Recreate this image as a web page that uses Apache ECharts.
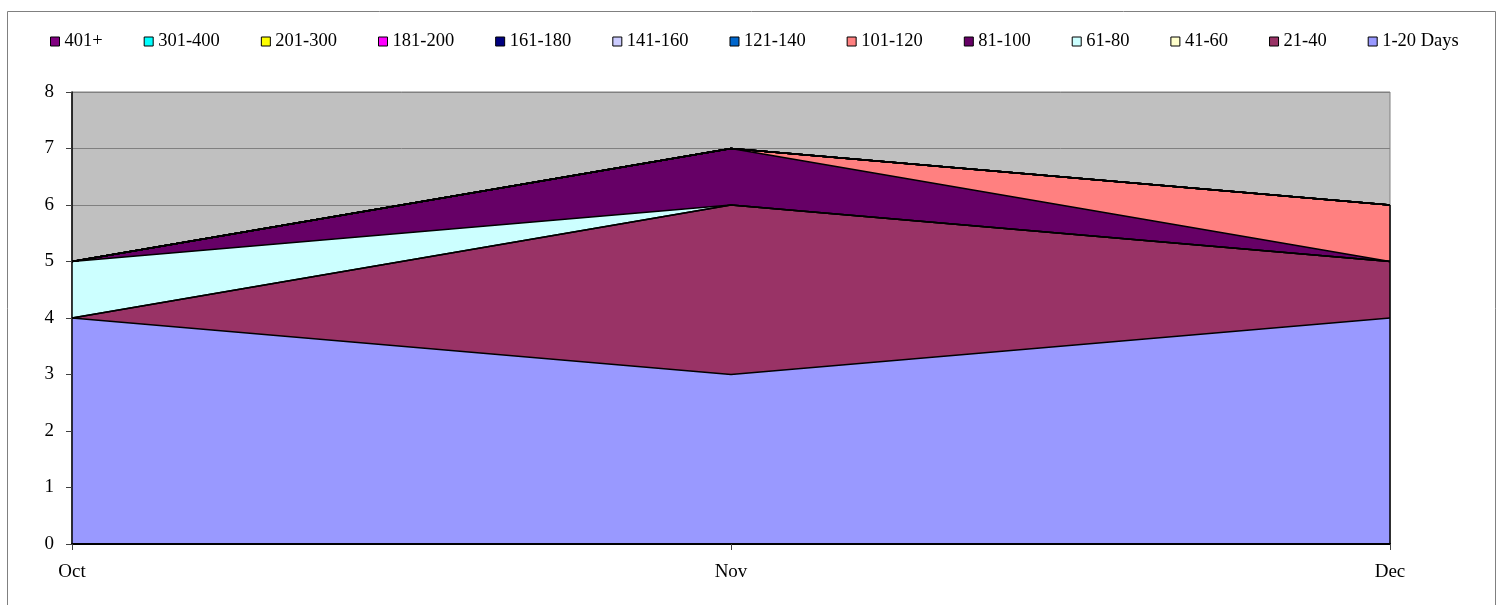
<!DOCTYPE html>
<html>
<head>
<meta charset="utf-8">
<script src="https://cdn.jsdelivr.net/npm/echarts@6/dist/echarts.min.js"></script>
<style>
  html, body { margin: 0; padding: 0; background: #fff; }
  #chart { width: 1506px; height: 605px; }
</style>
</head>
<body>
<div id="chart"></div>
<script>
// months on the x axis
const months = ['Oct', 'Nov', 'Dec'];

// bucket names, bottom of the stack first
const buckets = ['1-20 Days', '21-40', '41-60', '61-80', '81-100', '101-120', '121-140',
  '141-160', '161-180', '181-200', '201-300', '301-400', '401+'];

// one row per bucket (same order as above)
const d1_20 = [4, 3, 4];
const d21_40 = [0, 3, 1];
const d41_60 = [0, 0, 0];
const d61_80 = [1, 0, 0];
const d81_100 = [0, 1, 0];
const d101_120 = [0, 0, 1];
const d121_140 = [0, 0, 0];
const d141_160 = [0, 0, 0];
const d161_180 = [0, 0, 0];
const d181_200 = [0, 0, 0];
const d201_300 = [0, 0, 0];
const d301_400 = [0, 0, 0];
const d401 = [0, 0, 0];

const yTicks = [0, 1, 2, 3, 4, 5, 6, 7, 8];

const values = [d1_20, d21_40, d41_60, d61_80, d81_100, d101_120, d121_140,
  d141_160, d161_180, d181_200, d201_300, d301_400, d401];

// old excel palette
const colors = ['#9999FF', '#993366', '#FFFFCC', '#CCFFFF', '#660066', '#FF8080', '#0066CC',
  '#CCCCFF', '#000080', '#FF00FF', '#FFFF00', '#00FFFF', '#800080'];

const font = 'Liberation Serif, Times New Roman, serif';

// total height at the last month, for the closing edge on the right
const lastIdx = months.length - 1;
const lastTotal = values.reduce((s, v) => s + v[lastIdx], 0);

const chart = echarts.init(document.getElementById('chart'));

const series = buckets.map((name, i) => {
  const s = {
    name: name,
    type: 'line',
    stack: 'all',
    data: values[i],
    symbol: 'none',
    smooth: false,
    color: colors[i],
    lineStyle: { color: '#000', width: 1.5 },
    areaStyle: { color: colors[i], opacity: 1 },
    emphasis: { disabled: true },
    z: 2
  };
  if (i === 0) {
    s.markLine = {
      silent: true,
      symbol: ['none', 'none'],
      label: { show: false },
      lineStyle: { color: '#000', width: 1.5, type: 'solid' },
      data: [[{ coord: [months[lastIdx], 0] }, { coord: [months[lastIdx], lastTotal] }]]
    };
  }
  return s;
});

const yBase = {
  type: 'value',
  min: yTicks[0],
  max: yTicks[yTicks.length - 1],
  interval: 1
};

const option = {
  animation: false,
  backgroundColor: '#fff',
  graphic: [{
    type: 'rect',
    shape: { x: 7.5, y: 11.5, width: 1488, height: 600 },
    style: { fill: 'none', stroke: '#808080', lineWidth: 1 },
    silent: true
  }],
  legend: {
    data: buckets.slice().reverse(),
    left: 45,
    top: 27,
    itemWidth: 9,
    itemHeight: 9,
    itemGap: 41,
    icon: 'rect',
    itemStyle: { borderColor: '#000', borderWidth: 1 },
    textStyle: { fontFamily: font, fontSize: 18.5, color: '#000' },
    selectedMode: false
  },
  grid: {
    left: 72,
    right: 116,
    top: 92,
    bottom: 61,
    show: true,
    backgroundColor: '#C0C0C0',
    borderColor: '#808080',
    borderWidth: 1
  },
  xAxis: {
    type: 'category',
    data: months,
    boundaryGap: false,
    axisLine: { lineStyle: { color: '#000', width: 2 } },
    axisTick: { show: true, length: 6, lineStyle: { color: '#404040' } },
    axisLabel: { fontFamily: font, fontSize: 19, color: '#000', margin: 19 },
    splitLine: { show: false },
    z: 5
  },
  yAxis: [
    // gridlines only, kept under the areas
    Object.assign({}, yBase, {
      axisLine: { show: false },
      axisTick: { show: false },
      axisLabel: { show: false },
      splitLine: { show: true, lineStyle: { color: '#808080', width: 1 } },
      z: 1
    }),
    // visible axis on top
    Object.assign({}, yBase, {
      position: 'left',
      axisLine: { show: true, lineStyle: { color: '#000', width: 1.5 } },
      axisTick: { show: true, length: 6, lineStyle: { color: '#404040' } },
      axisLabel: { fontFamily: font, fontSize: 19, color: '#000', margin: 18 },
      splitLine: { show: false },
      z: 5
    })
  ],
  series: series
};

chart.setOption(option);
</script>
</body>
</html>
